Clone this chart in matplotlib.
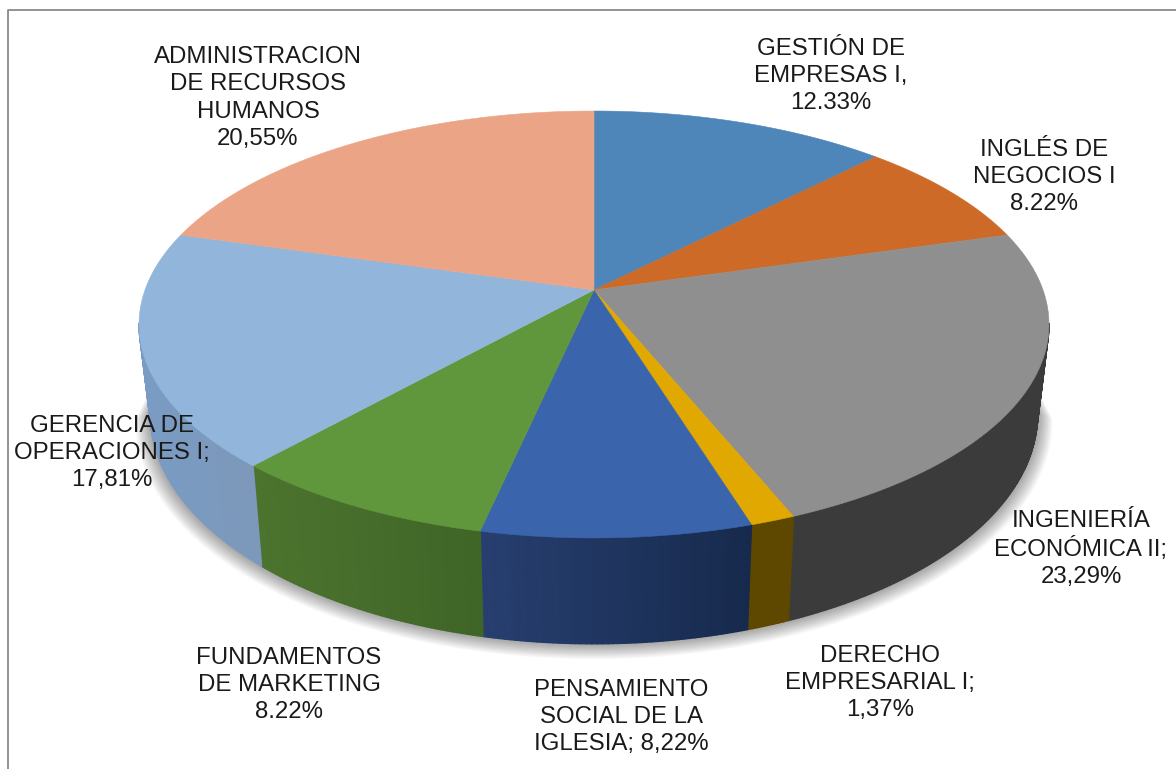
import numpy as np
import matplotlib
matplotlib.use("Agg")
import matplotlib.pyplot as plt
from matplotlib.collections import PolyCollection
from matplotlib.colors import to_rgb

categories = ["GESTIÓN DE\nEMPRESAS I,\n12.33%",
              "INGLÉS DE\nNEGOCIOS I\n8.22%",
              "INGENIERÍA\nECONÓMICA II;\n23,29%",
              "DERECHO\nEMPRESARIAL I;\n1,37%",
              "PENSAMIENTO\nSOCIAL DE LA\nIGLESIA; 8,22%",
              "FUNDAMENTOS\nDE MARKETING\n8.22%",
              "GERENCIA DE\nOPERACIONES I;\n17,81%",
              "ADMINISTRACION\nDE RECURSOS\nHUMANOS\n20,55%"]
values = [12.33, 8.22, 23.29, 1.37, 8.22, 8.22, 17.81, 20.55]

top_colors = ["#4E86BA", "#CD6A27", "#8F8F8F", "#E0A800",
              "#3A64AB", "#60973C", "#92B5DC", "#EBA586"]
wall_left = ["#2F5070", "#7A4018", "#3B3B3B", "#5E4800",
             "#273F70", "#4C742E", "#7A9BC3", "#8C6350"]
wall_right = ["#2F5070", "#7A4018", "#3B3B3B", "#5E4800",
              "#172A4D", "#3F6527", "#7D98BA", "#8C6350"]
label_xy = [(831, 76), (1044, 177), (1081, 549), (880, 683),
            (621, 717), (289, 685), (112, 453), (258, 98)]

CX, CY = 594, 290
R, RK, P = 449.0, 207.9, 0.1615
BASE_SX, BASE_SY, BASE_CY = 0.975, 1.076, 377.0
FRONT_START, FRONT_END = np.radians(99), np.radians(261)


def top_ring(theta, scale=1.0):
    x, y = np.sin(theta) * scale, np.cos(theta) * scale
    w = 1 + P * y
    return CX + R * x / w, CY - RK * y / w


def base_ring(theta, scale=1.0, dy=0.0):
    x, y = np.sin(theta) * scale, np.cos(theta) * scale
    w = 1 + P * y
    return CX + BASE_SX * R * x / w, BASE_CY + dy - BASE_SY * RK * y / w


fig = plt.figure(figsize=(11.76, 7.69), dpi=100, facecolor="white")
ax = fig.add_axes([0, 0, 1, 1])
ax.set_xlim(0, 1176)
ax.set_ylim(769, 0)
ax.axis("off")

# chart frame
ax.plot([7.5, 7.5, 1176], [769, 10.3, 10.3], color="#8A8A8A", lw=1.3, zorder=1)

# soft shadow below the body
front = np.linspace(FRONT_START, FRONT_END, 240)
for d in range(1, 15):
    s = 1 + d / 430.0
    bx, by = base_ring(front, s, d * 0.35)
    tx, ty = top_ring(front[::-1], 0.9)
    ax.fill(np.r_[bx, tx], np.r_[by, ty], color="black", alpha=0.028, lw=0, zorder=2)

edges = np.cumsum([0] + values) / sum(values) * 2 * np.pi

# side walls (visible front part only), shaded from left to right
for a0, b0, cl, cr in zip(edges[:-1], edges[1:], wall_left, wall_right):
    a, b = max(a0, FRONT_START), min(b0, FRONT_END)
    if b <= a:
        continue
    n = max(3, int((b - a) / np.radians(0.6)))
    th = np.linspace(a, b, n + 1)
    tx, ty = top_ring(th)
    bx, by = base_ring(th)
    xmin, xmax = min(tx.min(), bx.min()), max(tx.max(), bx.max())
    c0, c1 = np.array(to_rgb(cl)), np.array(to_rgb(cr))
    # solid underlay so that strip seams cannot show what lies behind
    ax.fill(np.r_[tx, bx[::-1]], np.r_[ty, by[::-1]], color=(c0 + c1) / 2, lw=0, zorder=3)
    polys, cols = [], []
    for i in range(n):
        polys.append([(tx[i], ty[i]), (tx[i + 1], ty[i + 1]),
                      (bx[i + 1], by[i + 1]), (bx[i], by[i])])
        f = (0.5 * (tx[i] + tx[i + 1]) - xmin) / max(xmax - xmin, 1)
        cols.append(c0 + (c1 - c0) * f)
    ax.add_collection(PolyCollection(polys, facecolors=cols, edgecolors=cols,
                                     linewidths=1.0, zorder=3.5))

# top surface
for a, b, c in zip(edges[:-1], edges[1:], top_colors):
    th = np.linspace(a, b, max(3, int((b - a) / np.radians(0.5))))
    x, y = top_ring(th)
    ax.fill(np.r_[CX, x], np.r_[CY, y], color=c, ec=c, lw=0.4, zorder=4)

# labels
for txt, (lx, ly) in zip(categories, label_xy):
    ax.text(lx, ly, txt, ha="center", va="center", ma="center",
            family="Liberation Sans", fontsize=17.3, color="#1A1A1A",
            linespacing=1.3, zorder=6)

fig.savefig("out.png", dpi=100, facecolor="white")
